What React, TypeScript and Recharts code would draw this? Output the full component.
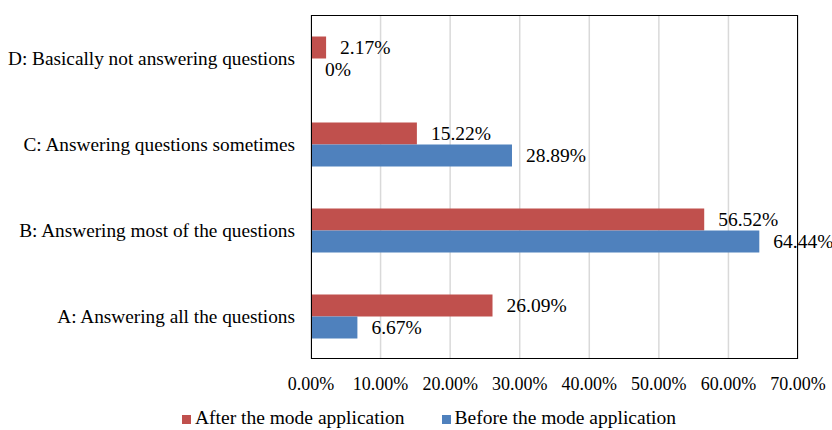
import React from 'react'
import { BarChart, Bar, XAxis, YAxis, CartesianGrid, Legend } from 'recharts'

const categories = [
  'D: Basically not answering questions',
  'C: Answering questions sometimes',
  'B: Answering most of the questions',
  'A: Answering all the questions',
]
const afterValues = [2.17, 15.22, 56.52, 26.09]
const beforeValues = [0, 28.89, 64.44, 6.67]
const xTicks = [0, 10, 20, 30, 40, 50, 60, 70]

const FONT = '"Liberation Serif", "Times New Roman", serif'

const data = categories.map((name, i) => ({
  name,
  after: afterValues[i],
  before: beforeValues[i],
}))

const pct = (v: any) => (v === 0 ? '0%' : Number(v).toFixed(2) + '%')

// value label to the right of each bar, also for zero-width bars
const renderValue = (props: any) => {
  const { x, y, width, height, value } = props
  return (
    <text
      x={x + (width || 0) + 14}
      y={y + height / 2}
      dominantBaseline="central"
      fill="#000"
      fontSize={19.5}
      fontFamily={FONT}
    >
      {pct(value)}
    </text>
  )
}

export default function App() {
  return (
    <div style={{ position: 'absolute', left: 0, top: 0, width: 832, height: 430, background: '#fff' }}>
      <BarChart
        width={832}
        height={430}
        data={data}
        layout="vertical"
        barGap={0}
        barCategoryGap="25%"
        margin={{ top: 15, right: 34, bottom: 0, left: 0 }}
        style={{ fontFamily: FONT }}
      >
        <CartesianGrid horizontal={false} stroke="#d9d9d9" strokeWidth={1.5} />
        <XAxis
          type="number"
          domain={[0, 70]}
          ticks={xTicks}
          tickFormatter={(v) => v.toFixed(2) + '%'}
          axisLine={false}
          tickLine={false}
          tick={{ fill: '#000', fontSize: 18, fontFamily: FONT }}
          tickMargin={12}
          height={40}
          interval={0}
        />
        <YAxis
          type="category"
          dataKey="name"
          width={311}
          axisLine={false}
          tickLine={false}
          tick={{ fill: '#000', fontSize: 19.3, fontFamily: FONT }}
          tickMargin={10}
          interval={0}
        />
        <Legend
          verticalAlign="bottom"
          height={31}
          iconType="square"
          iconSize={9}
          wrapperStyle={{
            fontFamily: FONT,
            fontSize: 19.5,
            lineHeight: '22px',
            color: '#000',
            boxSizing: 'border-box',
            paddingTop: 8,
            paddingLeft: 70,
          }}
          formatter={(value, entry, index) => (
            <span style={{ color: '#000', marginRight: index === 0 ? 27 : 0 }}>{value}</span>
          )}
        />
        <Bar
          dataKey="after"
          name="After the mode application"
          fill="#c0504d"
          isAnimationActive={false}
          label={renderValue}
        />
        <Bar
          dataKey="before"
          name="Before the mode application"
          fill="#4f81bd"
          isAnimationActive={false}
          minPointSize={0.01}
          label={renderValue}
        />
      </BarChart>
      <div
        style={{
          position: 'absolute',
          left: 311,
          top: 15,
          width: 487,
          height: 344,
          border: '1.5px solid #000',
          boxSizing: 'border-box',
          pointerEvents: 'none',
        }}
      />
    </div>
  )
}
